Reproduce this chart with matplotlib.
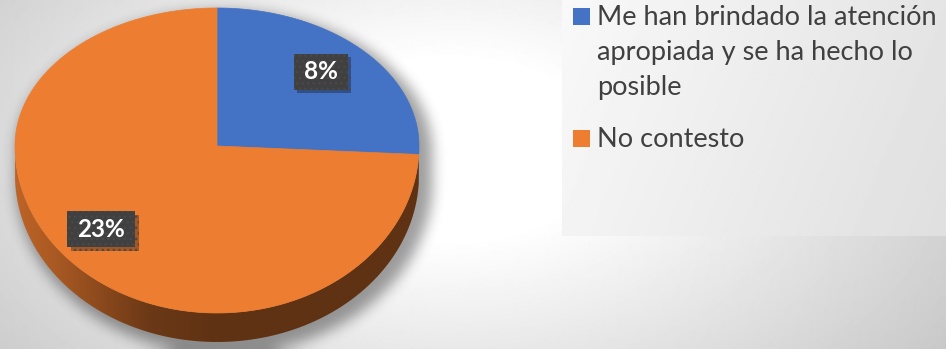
import textwrap

import numpy as np
import matplotlib.pyplot as plt
import matplotlib.patheffects as pe
from matplotlib.path import Path
from matplotlib.patches import PathPatch, Rectangle

categorias = [
    'Me han brindado la atención apropiada y se ha hecho lo posible',
    'No contesto',
]
valores = [8, 23]
etiquetas = ['8%', '23%']
colores = ['#4472c4', '#ed7d31']

W, H = 946, 349
fig = plt.figure(figsize=(W / 100, H / 100), dpi=100)
ax = fig.add_axes([0, 0, 1, 1])


def caja_blur(a, r, pasadas=3):
    # desenfoque de caja repetido (aprox. gaussiano)
    for _ in range(pasadas):
        for eje in (0, 1):
            p = np.pad(a, [(r, r) if e == eje else (0, 0) for e in (0, 1)], mode='edge')
            c = np.cumsum(p, axis=eje)
            c = np.insert(c, 0, 0, axis=eje)
            if eje == 0:
                a = (c[2 * r + 1:, :] - c[:-2 * r - 1, :]) / (2 * r + 1)
            else:
                a = (c[:, 2 * r + 1:] - c[:, :-2 * r - 1]) / (2 * r + 1)
    return a


# fondo con degradado radial
yy, xx = np.mgrid[0:H, 0:W] + 0.5
d = np.sqrt(((xx - 450) / 500) ** 2 + ((yy - 150) / 300) ** 2)
fondo = 1 - 0.24 * np.clip(d - 0.3, 0, None)
ax.imshow(fondo, cmap='gray', vmin=0, vmax=1, extent=(0, W, H, 0),
          interpolation='bilinear', zorder=0)

# caja de la leyenda
lx0, ly1 = 562, 236
gx, gy = np.meshgrid(np.linspace(0, 1, 200), np.linspace(0, 1, 100))
caja = 0.975 - 0.1 * (0.8 * gx + 0.2 * gy)
ax.imshow(caja, cmap='gray', vmin=0, vmax=1, extent=(lx0, W, ly1, 0),
          interpolation='bilinear', zorder=1)

# geometría del pastel en perspectiva
cx, cy = 217, 146
rx, ry_lejos, ry_cerca = 202, 138, 167
grosor = 29


def borde(t, r=1.0, dy=0.0):
    t = np.asarray(t, dtype=float)
    ry = np.where(np.sin(t) >= 0, ry_lejos, ry_cerca)
    return cx + r * rx * np.cos(t), cy - r * ry * np.sin(t) + dy


frac = np.array(valores) / sum(valores)
fin = np.pi / 2 - 2 * np.pi * np.cumsum(frac)
ini = np.concatenate([[np.pi / 2], fin[:-1]])

# sombra difusa
t_sup = np.linspace(0, np.pi, 200)
t_inf = np.linspace(np.pi, 2 * np.pi, 200)
xs1, ys1 = borde(t_sup, r=1.03)
xs2, ys2 = borde(t_inf, r=1.03, dy=grosor)
contorno = Path(np.column_stack([np.r_[xs1, xs2] + 7, np.r_[ys1, ys2] + 7]))
dentro = contorno.contains_points(np.column_stack([xx.ravel(), yy.ravel()]))
mascara = caja_blur(dentro.reshape(H, W).astype(float), 6)
sombra = np.zeros((H, W, 4))
sombra[..., 3] = 0.38 * mascara
ax.imshow(sombra, extent=(0, W, H, 0), interpolation='bilinear', zorder=2)

# pared lateral con sombreado horizontal
x_stops = [15, 60, 150, 220, 419]
f_stops = [0.80, 0.70, 0.45, 0.40, 0.40]
xg = np.linspace(cx - rx, cx + rx, 300)
luz = np.interp(xg, x_stops, f_stops)
for i, color in enumerate(colores):
    lo, hi = max(fin[i], -np.pi), min(ini[i], 0)
    if lo >= hi:
        continue
    t = np.linspace(hi, lo, 200)
    xa, ya = borde(t)
    xb, yb = borde(t[::-1], dy=grosor)
    pared = Path(np.column_stack([np.r_[xa, xb], np.r_[ya, yb]]))
    parche = PathPatch(pared, fc='none', lw=0)
    ax.add_patch(parche)
    rgb = np.array(plt.matplotlib.colors.to_rgb(color))
    img = (luz[:, None] * rgb[None, :])[None, :, :]
    im = ax.imshow(img, extent=(cx - rx, cx + rx, cy + ry_cerca + grosor + 1, cy - 1),
                   interpolation='bilinear', zorder=3)
    im.set_clip_path(parche)

# cara superior
for i, color in enumerate(colores):
    t = np.linspace(ini[i], fin[i], 300)
    xa, ya = borde(t)
    cara = Path(np.column_stack([np.r_[cx, xa, cx], np.r_[cy, ya, cy]]))
    ax.add_patch(PathPatch(cara, fc=color, ec=color, lw=0.5, zorder=4))

# etiquetas de datos
fig.canvas.draw()
rend = fig.canvas.get_renderer()
for i, etiqueta in enumerate(etiquetas):
    tm = (ini[i] + fin[i]) / 2
    x, y = borde(tm, r=0.75)
    x, y = x - 6, y - 3
    txt = ax.text(x, y, etiqueta, ha='center', va='center', color='white',
                  fontsize=17.5, fontweight='bold', family='Lato', zorder=7)
    ancho = txt.get_window_extent(rend).width + 20
    caja_et = Rectangle((x - ancho / 2, y - 18), ancho, 36, fc='#404040',
                        ec='#494949', lw=0, hatch='...', zorder=6)
    caja_et.set_path_effects([pe.SimplePatchShadow(offset=(2.5, -2.5), alpha=0.35),
                              pe.Normal()])
    ax.add_patch(caja_et)

# leyenda
base = 25
for color, cat in zip(colores, categorias):
    lineas = textwrap.wrap(cat, 27)
    ax.add_patch(Rectangle((573, base - 17), 17, 17, fc=color, lw=0, zorder=5))
    for k, linea in enumerate(lineas):
        ax.text(597, base + 35 * k, linea, ha='left', va='baseline',
                fontsize=19.5, color='#404040', family='Lato', zorder=5)
    base += 35 * len(lineas) + 17

ax.set_xlim(0, W)
ax.set_ylim(H, 0)
ax.set_aspect('auto')
ax.axis('off')
fig.savefig('out.png', dpi=100)
